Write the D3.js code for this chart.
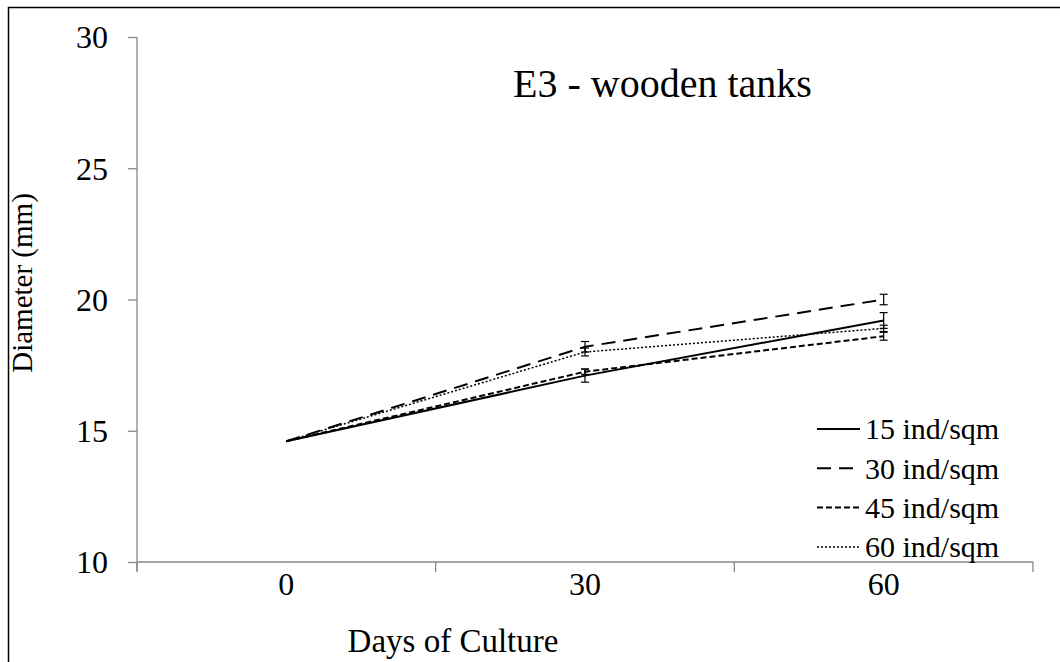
<!DOCTYPE html>
<html>
<head>
<meta charset="utf-8">
<script src="https://cdn.jsdelivr.net/npm/d3@7"></script>
<style>
  body { margin: 0; background: #fff; }
  svg text { font-family: "Liberation Serif", "Times New Roman", Times, "DejaVu Serif", serif; fill: #000; }
</style>
</head>
<body>
<div id="chart-area"></div>
<script>
// data
var days = [0, 30, 60];
var seriesNames = ["15 ind/sqm", "30 ind/sqm", "45 ind/sqm", "60 ind/sqm"];
var d15 = [14.6, 17.1, 19.2];
var d30 = [14.6, 18.2, 20.0];
var d45 = [14.6, 17.25, 18.6];
var d60 = [14.6, 18.0, 18.9];
var e15 = [0, 0.25, 0.3];
var e30 = [0, 0.2, 0.2];
var e45 = [0, 0.1, 0.15];
var e60 = [0, 0.15, 0.12];
var yTicks = [10, 15, 20, 25, 30];

var values = [d15, d30, d45, d60];
var errors = [e15, e30, e45, e60];
var dashes = [null, "14,8", "6,3", "2,2"];
var widths = [2, 2, 2, 1.5];

var serif = "'Liberation Serif', 'Times New Roman', Times, 'DejaVu Serif', serif";

var W = 1060, H = 662;
var margin = { left: 137, right: 27, top: 37, bottom: 100 };

var svg = d3.select("#chart-area")
    .append("svg")
        .attr("width", W)
        .attr("height", H)
        .attr("font-family", serif);

// outer frame
svg.append("rect")
    .attr("x", 8.5)
    .attr("y", 7.5)
    .attr("width", W + 20)
    .attr("height", H + 20)
    .attr("fill", "none")
    .attr("stroke", "#000")
    .attr("stroke-width", 1.5);

var x = d3.scaleBand()
    .domain(days)
    .range([margin.left, W - margin.right]);

var y = d3.scaleLinear()
    .domain([10, 30])
    .range([H - margin.bottom, margin.top]);

function cx(d) { return x(d) + x.bandwidth() / 2; }

// Y Axis
var yAxisCall = d3.axisLeft(y)
    .tickValues(yTicks)
    .tickSize(9)
    .tickSizeOuter(0)
    .tickPadding(20);
var yAxis = svg.append("g")
    .attr("class", "y axis")
    .attr("transform", "translate(" + margin.left + ",0)")
    .call(yAxisCall)
    .attr("font-family", serif);
yAxis.select(".domain").attr("stroke", "#888").attr("stroke-width", 1.3)
    .attr("d", "M0," + y(30) + "V" + (y(10) + 9));
yAxis.selectAll(".tick line").attr("stroke", "#888").attr("stroke-width", 1.3);
yAxis.selectAll("text").attr("font-size", "32px").attr("dy", "0.34em");

// X Axis - labels at category centers, ticks between categories
var xAxisCall = d3.axisBottom(x)
    .tickSize(0)
    .tickPadding(0);
var xAxis = svg.append("g")
    .attr("class", "x axis")
    .attr("transform", "translate(0," + y(10) + ")")
    .call(xAxisCall)
    .attr("font-family", serif);
xAxis.select(".domain").attr("stroke", "#888").attr("stroke-width", 1.3)
    .attr("d", "M" + margin.left + ",0H" + (W - margin.right));
xAxis.selectAll("text").attr("font-size", "32px").attr("dy", "0").attr("y", 33);

var edges = days.map(function(d) { return x(d); }).concat([x(days[days.length - 1]) + x.bandwidth()]);
xAxis.selectAll(".edge")
    .data(edges)
    .enter().append("line")
    .attr("class", "edge")
    .attr("x1", function(d) { return d; })
    .attr("x2", function(d) { return d; })
    .attr("y1", 0)
    .attr("y2", 10)
    .attr("stroke", "#888")
    .attr("stroke-width", 1.3);

// axis titles
svg.append("text")
    .attr("x", 453)
    .attr("y", 652)
    .attr("font-size", "33px")
    .attr("text-anchor", "middle")
    .text("Days of Culture");

svg.append("text")
    .attr("transform", "rotate(-90)")
    .attr("x", -283)
    .attr("y", 32)
    .attr("font-size", "29px")
    .attr("text-anchor", "middle")
    .text("Diameter (mm)");

svg.append("text")
    .attr("x", 513)
    .attr("y", 97)
    .attr("font-size", "40px")
    .text("E3 - wooden tanks");

// lines
var line = d3.line()
    .x(function(d, i) { return cx(days[i]); })
    .y(function(d) { return y(d); });

values.forEach(function(vals, s) {
    svg.append("path")
        .datum(vals)
        .attr("d", line)
        .attr("fill", "none")
        .attr("stroke", "#000")
        .attr("stroke-width", widths[s])
        .attr("stroke-dasharray", dashes[s]);

    // error bars
    var eg = svg.append("g").attr("class", "errbar");
    vals.forEach(function(v, i) {
        var e = errors[s][i];
        if (!e) return;
        var px = cx(days[i]);
        eg.append("line")
            .attr("x1", px).attr("x2", px)
            .attr("y1", y(v - e)).attr("y2", y(v + e))
            .attr("stroke", "#000").attr("stroke-width", 1.2);
        [v - e, v + e].forEach(function(c) {
            eg.append("line")
                .attr("x1", px - 4).attr("x2", px + 4)
                .attr("y1", y(c)).attr("y2", y(c))
                .attr("stroke", "#000").attr("stroke-width", 1.2);
        });
    });
});

// legend
var legend = svg.append("g")
    .attr("transform", "translate(817,429)");

seriesNames.forEach(function(name, i) {
    var row = legend.append("g")
        .attr("transform", "translate(0," + (i * 39.3) + ")");
    row.append("line")
        .attr("x1", 0).attr("x2", 43)
        .attr("y1", 0).attr("y2", 0)
        .attr("stroke", "#000")
        .attr("stroke-width", widths[i])
        .attr("stroke-dasharray", dashes[i]);
    row.append("text")
        .attr("x", 48)
        .attr("y", 0)
        .attr("dy", "0.34em")
        .attr("font-size", "30px")
        .text(name);
});
</script>
</body>
</html>
